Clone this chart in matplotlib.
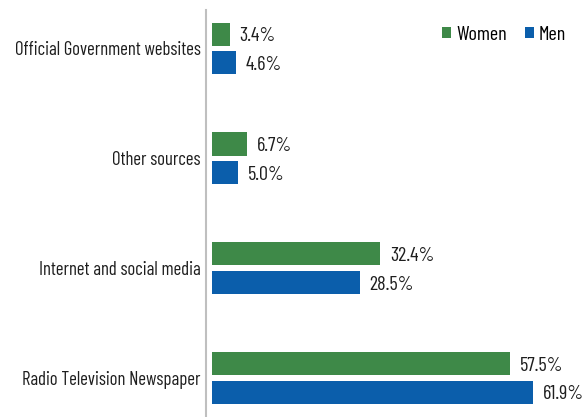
import numpy as np
import matplotlib.pyplot as plt

# information sources by gender (%)
categories = ["Official Government websites", "Other sources",
              "Internet and social media", "Radio Television Newspaper"]
women = [3.4, 6.7, 32.4, 57.5]
men = [4.6, 5.0, 28.5, 61.9]

GREEN = "#3E8948"
BLUE = "#0B5EAB"
TEXT = "#1E1E1E"

plt.rcParams['font.family'] = ['Barlow Condensed', 'DejaVu Sans']

fig = plt.figure(figsize=(5.85, 4.17), dpi=100)
ax = fig.add_axes([206 / 585, 0, 379 / 585, 407 / 417])

y = np.arange(len(categories))
h = 0.21
off = 0.13
bw = ax.barh(y - off, women, height=h, color=GREEN, label="Women")
bm = ax.barh(y + off, men, height=h, color=BLUE, label="Men")

for bars, vals in [(bw, women), (bm, men)]:
    for b, v in zip(bars, vals):
        ax.annotate(f"{v:.1f}%", (b.get_width(), b.get_y() + b.get_height() / 2),
                    xytext=(7, -1.5), textcoords="offset points",
                    ha="left", va="center", fontsize=14.5, color=TEXT)

ax.set_yticks(y)
ax.set_yticklabels(categories, fontsize=13.5, color=TEXT)
ax.tick_params(axis="y", length=0, pad=4)
ax.set_xticks([])
ax.set_xlim(-1.16, 71.9)
ax.set_ylim(3.355, -0.35)

for s in ["top", "right", "bottom"]:
    ax.spines[s].set_visible(False)
ax.spines["left"].set_color("#BFBFBF")
ax.spines["left"].set_linewidth(1.5)

fig.legend(handles=[bw, bm], labels=["Women", "Men"],
           loc="center right", bbox_to_anchor=(566 / 585, 1 - 35 / 417),
           ncol=2, frameon=False, fontsize=14.5,
           handlelength=0.45, handleheight=0.45, handletextpad=0.25,
           columnspacing=0.9, borderaxespad=0, borderpad=0)

fig.savefig("out.png", dpi=100)
